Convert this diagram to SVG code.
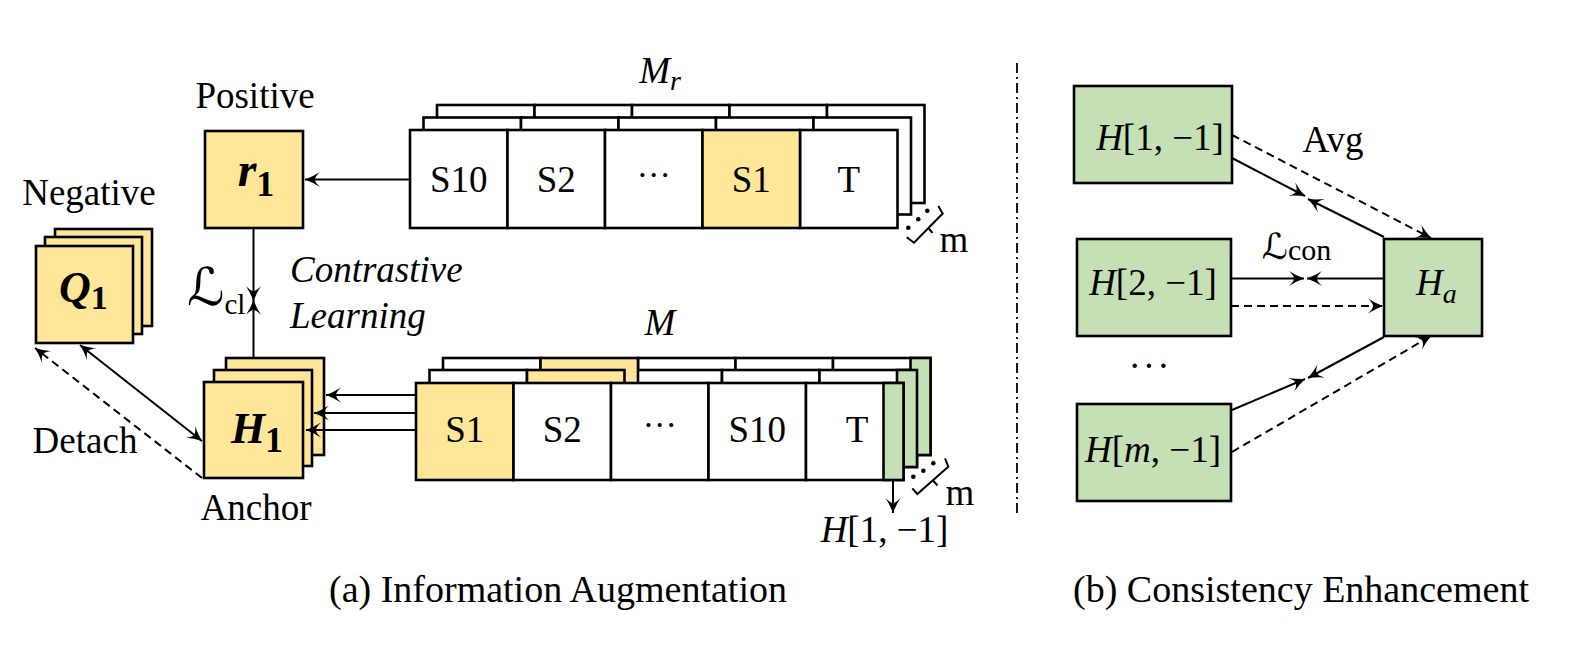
<svg xmlns="http://www.w3.org/2000/svg" width="1569" height="655" viewBox="0 0 1569 655" font-family="Liberation Serif, Times New Roman, serif">
<style>
.bx{stroke:#000;stroke-width:2.6}
.y{fill:#FFE699}
.g{fill:#C5E0B4}
.w{fill:#fff}
.ln{stroke:#000;stroke-width:2;fill:none}
.ds{stroke-dasharray:8 5}
.t{font-size:37px;fill:#000}
.it{font-style:italic}
.bi{font-style:italic;font-weight:bold}
</style>
<defs>
<marker id="ah" viewBox="-17 -9 19 18" refX="0" refY="0" markerWidth="19" markerHeight="18" markerUnits="userSpaceOnUse" orient="auto-start-reverse">
<path d="M0,0 Q-8,-3 -15,-7.5 Q-10,-3 -10,0 Q-10,3 -15,7.5 Q-8,3 0,0 Z" fill="#000"/>
</marker>
</defs>
<rect width="1569" height="655" fill="#fff"/>

<!-- Negative Q1 -->
<g id="q1">
<rect class="bx y" x="55" y="229" width="97" height="97"/>
<rect class="bx y" x="45" y="237" width="97" height="97"/>
<rect class="bx y" x="36" y="246" width="97" height="97"/>
<text class="t" x="59" y="302"><tspan class="bi" font-size="44">Q</tspan><tspan font-weight="bold" font-size="34" dy="7">1</tspan></text>
<text class="t" x="89" y="205" text-anchor="middle">Negative</text>
</g>

<!-- Positive r1 -->
<g id="r1">
<rect class="bx y" x="205" y="131" width="98" height="97"/>
<text class="t" x="256" y="186" text-anchor="middle"><tspan class="bi" font-size="48">r</tspan><tspan font-weight="bold" font-size="36" dy="10">1</tspan></text>
<text class="t" x="255" y="108" text-anchor="middle">Positive</text>
</g>

<!-- Anchor H1 -->
<g id="h1">
<rect class="bx y" x="226" y="358" width="98" height="97"/>
<rect class="bx y" x="214" y="370" width="98" height="96"/>
<rect class="bx y" x="204" y="382" width="99" height="96"/>
<text class="t" x="257" y="443" text-anchor="middle"><tspan class="bi" font-size="44">H</tspan><tspan font-weight="bold" font-size="36" dy="9">1</tspan></text>
<text class="t" x="256" y="520" text-anchor="middle">Anchor</text>
</g>

<g id="labels-a">
<text class="t" x="85" y="453" text-anchor="middle">Detach</text>
<text class="t it" x="290" y="282" font-size="36">Contrastive</text>
<text class="t it" x="290" y="328" font-size="36">Learning</text>
<text class="t" x="187" y="305"><tspan font-family="DejaVu Serif, DejaVu Sans, serif" font-size="52">ℒ</tspan><tspan font-size="29" dy="9">cl</tspan></text>
</g>

<!-- Mr stack -->
<g id="mr">
<g class="bx w">
<rect x="437" y="105" width="97.5" height="98"/><rect x="534.5" y="105" width="97.5" height="98"/><rect x="632" y="105" width="97.5" height="98"/><rect x="729.5" y="105" width="97.5" height="98"/><rect x="827" y="105" width="97.5" height="98"/>
<rect x="423.5" y="117.5" width="97.5" height="97"/><rect x="521" y="117.5" width="97.5" height="97"/><rect x="618.5" y="117.5" width="97.5" height="97"/><rect x="716" y="117.5" width="97.5" height="97"/><rect x="813.5" y="117.5" width="97.5" height="97"/>
<rect x="410" y="130" width="97.5" height="98"/><rect x="507.5" y="130" width="97.5" height="98"/><rect x="605" y="130" width="97.5" height="98"/><rect x="800" y="130" width="97.5" height="98"/>
</g>
<rect class="bx y" x="702.5" y="130" width="97.5" height="98"/>
<g class="t" text-anchor="middle">
<text x="458.75" y="192">S10</text><text x="556.25" y="192">S2</text><text x="653.75" y="186" font-size="34">···</text><text x="751.25" y="192">S1</text><text x="848.75" y="192">T</text>
<text x="660" y="83"><tspan class="it">M</tspan><tspan class="it" font-size="28" dy="7">r</tspan></text>
</g>
<path class="ln" d="M906.7,237.3 L914,242.7 L942.7,213.5 L938.3,206 M928.3,228 L932.5,232.8"/>
<g fill="#000"><circle cx="908.3" cy="227.7" r="2.3"/><circle cx="918.3" cy="219.3" r="2.3"/><circle cx="927.3" cy="210.7" r="2.3"/></g>
<text class="t" x="954" y="252" text-anchor="middle">m</text>
</g>

<!-- M stack -->
<g id="m">
<g class="bx w">
<rect x="443" y="358" width="97.5" height="97"/><rect x="638" y="358" width="97.5" height="97"/><rect x="735.5" y="358" width="97.5" height="97"/><rect x="833" y="358" width="97.5" height="97"/>
<rect x="429.5" y="370" width="97.5" height="97"/><rect x="624.5" y="370" width="97.5" height="97"/><rect x="722" y="370" width="97.5" height="97"/><rect x="819.5" y="370" width="97.5" height="97"/>
</g>
<rect class="bx y" x="540.5" y="358" width="97.5" height="97"/>
<rect class="bx g" x="910.5" y="358" width="20" height="97"/>
<rect class="bx y" x="527" y="370" width="97.5" height="97"/>
<rect class="bx g" x="897" y="370" width="20" height="97"/>
<rect class="bx y" x="416" y="383" width="97.5" height="97"/>
<g class="bx w"><rect x="513.5" y="383" width="97.5" height="97"/><rect x="611" y="383" width="97.5" height="97"/><rect x="708.5" y="383" width="97.5" height="97"/><rect x="806" y="383" width="97.5" height="97"/></g>
<rect class="bx g" x="883.5" y="383" width="20" height="97"/>
<g class="t" text-anchor="middle">
<text x="464.75" y="442">S1</text><text x="562.25" y="442">S2</text><text x="659.75" y="436" font-size="34">···</text><text x="757.25" y="442">S10</text><text x="857" y="442">T</text>
<text class="it" x="660" y="335">M</text>
<text x="884.5" y="542"><tspan class="it">H</tspan>[1, −1]</text>
</g>
<path class="ln" d="M912.3,488.3 L917.3,494 L948.3,466.7 L945,458.3 M933,480.5 L937.5,485.5"/>
<g fill="#000"><circle cx="913.3" cy="476.7" r="2.3"/><circle cx="923.3" cy="470.7" r="2.3"/><circle cx="933.3" cy="463.3" r="2.3"/></g>
<text class="t" x="960" y="505" text-anchor="middle">m</text>
</g>

<!-- Connectors (a) -->
<g id="connectors-a" class="ln" marker-end="url(#ah)">
<path d="M410,179.5 L305,179.5"/>
<path d="M253.5,228 L253.5,301"/>
<path d="M253.5,358 L253.5,300"/>
<path d="M416,395 L326,395"/>
<path d="M416,413 L314,413"/>
<path d="M416,430 L306,430"/>
<path d="M202,441 L80,345" marker-start="url(#ah)"/>
<path class="ds" d="M202,478 L35,348"/>
<path d="M893,480 L893,513"/>
</g>

<!-- separator -->
<line x1="1017" y1="63" x2="1017" y2="517" stroke="#000" stroke-width="1.8" stroke-dasharray="10 4 2 4"/>

<!-- Right panel nodes -->
<g id="hb1">
<rect class="bx g" x="1074" y="86" width="158" height="97"/>
<text class="t" x="1160" y="150" text-anchor="middle" font-size="39"><tspan class="it">H</tspan>[1, −1]</text>
</g>
<g id="hb2">
<rect class="bx g" x="1077" y="239" width="154" height="97"/>
<text class="t" x="1153" y="295" text-anchor="middle" font-size="39"><tspan class="it">H</tspan>[2, −1]</text>
</g>
<g id="hbm">
<rect class="bx g" x="1077" y="404" width="154" height="97"/>
<text class="t" x="1153" y="462" text-anchor="middle" font-size="39"><tspan class="it">H</tspan>[<tspan class="it">m</tspan>, −1]</text>
</g>
<g id="ha">
<rect class="bx g" x="1384" y="239" width="98" height="97"/>
<text class="t" x="1416" y="295"><tspan class="it">H</tspan><tspan class="it" font-size="28" dy="8">a</tspan></text>
</g>
<g id="labels-b">
<text class="t" x="1333" y="152" text-anchor="middle">Avg</text>
<text class="t" x="1262" y="259"><tspan font-family="DejaVu Serif, DejaVu Sans, serif" font-size="36">ℒ</tspan><tspan font-size="30" dy="1">con</tspan></text>
<text class="t" x="1150" y="378" text-anchor="middle" font-size="30" letter-spacing="2">···</text>
</g>

<!-- Connectors (b) -->
<g id="connectors-b" class="ln" marker-end="url(#ah)">
<path d="M1232,158 L1305,196"/>
<path d="M1384,237 L1308,199"/>
<path class="ds" d="M1232,135 L1431,238"/>
<path d="M1231,278.5 L1304,278.5"/>
<path d="M1383,278.5 L1307,278.5"/>
<path class="ds" d="M1231,306 L1383,306"/>
<path d="M1232,410 L1305,379"/>
<path d="M1384,337 L1308,378"/>
<path class="ds" d="M1232,452 L1431,336"/>
</g>

<!-- Captions -->
<g id="captions" class="t" text-anchor="middle">
<text x="558" y="602" font-size="38">(a) Information Augmentation</text>
<text x="1301" y="602" font-size="38">(b) Consistency Enhancement</text>
</g>
</svg>
